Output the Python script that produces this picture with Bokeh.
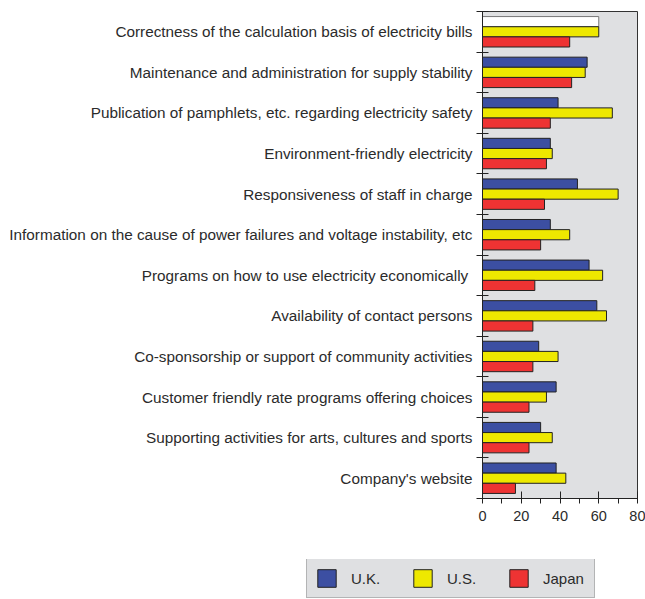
from bokeh.plotting import figure
from bokeh.models import (ColumnDataSource, Range1d, FixedTicker, CustomJSTickFormatter,
                          Legend, LegendItem)
from bokeh.transform import dodge
from bokeh.embed import file_html
from bokeh.resources import INLINE

categories = [
    "Correctness of the calculation basis of electricity bills",
    "Maintenance and administration for supply stability",
    "Publication of pamphlets, etc. regarding electricity safety",
    "Environment-friendly electricity",
    "Responsiveness of staff in charge",
    "Information on the cause of power failures and voltage instability, etc",
    "Programs on how to use electricity economically ",
    "Availability of contact persons",
    "Co-sponsorship or support of community activities",
    "Customer friendly rate programs offering choices",
    "Supporting activities for arts, cultures and sports",
    "Company's website",
]
series_names = ["U.K.", "U.S.", "Japan"]
uk = [60, 54, 39, 35, 49, 35, 55, 59, 29, 38, 30, 38]
us = [60, 53, 67, 36, 70, 45, 62, 64, 39, 33, 36, 43]
japan = [45, 46, 35, 33, 32, 30, 27, 26, 26, 24, 24, 17]
x_ticks = [0, 20, 40, 60, 80]

UK_C, US_C, JP_C = "#3c4fa2", "#eee800", "#ee3333"
BG = "#dfe0e2"
TXT = "#2b2b2b"
EDGE = "#222222"
FONT = "Liberation Sans"

n = len(categories)
pos = [i + 0.5 for i in range(n)]
uk_fill = ["#ffffff" if i == 0 else UK_C for i in range(n)]
uk_line = ["#777777" if i == 0 else EDGE for i in range(n)]

src = ColumnDataSource(dict(pos=pos, uk=uk, us=us, japan=japan,
                            uk_fill=uk_fill, uk_line=uk_line))

p = figure(width=645, height=559, x_range=Range1d(0, 80), y_range=Range1d(n, 0),
           output_backend="svg", toolbar_location=None,
           min_border_left=482, min_border_right=8, min_border_top=11,
           min_border_bottom=61)
p.background_fill_color = BG
p.border_fill_color = "white"
p.outline_line_color = "#333333"
p.outline_line_width = 1
p.xgrid.visible = False
p.ygrid.visible = False

h = 0.25
p.hbar(y=dodge("pos", -h, range=p.y_range), right="uk", left=0, height=h,
       source=src, fill_color="uk_fill", line_color="uk_line", line_width=1)
p.hbar(y=dodge("pos", 0, range=p.y_range), right="us", left=0, height=h,
       source=src, fill_color=US_C, line_color=EDGE, line_width=1)
p.hbar(y=dodge("pos", h, range=p.y_range), right="japan", left=0, height=h,
       source=src, fill_color=JP_C, line_color=EDGE, line_width=1)

# x axis
xa = p.xaxis[0]
xa.ticker = FixedTicker(ticks=x_ticks, minor_ticks=[t + 10 for t in x_ticks[:-1]])
xa.major_tick_in = 7
xa.major_tick_out = 5
xa.minor_tick_in = 0
xa.minor_tick_out = 5
xa.major_label_text_font = FONT
xa.major_label_text_font_size = "14.5px"
xa.major_label_text_color = TXT
xa.major_label_standoff = 7
xa.axis_line_color = EDGE
xa.major_tick_line_color = EDGE
xa.minor_tick_line_color = EDGE

# y axis: labels at group centres, ticks at group boundaries
ya = p.yaxis[0]
ya.ticker = FixedTicker(ticks=pos, minor_ticks=list(range(n + 1)))
ya.formatter = CustomJSTickFormatter(args=dict(cats=categories),
                                     code="return cats[Math.floor(tick)];")
ya.major_tick_in = 0
ya.major_tick_out = 0
ya.minor_tick_in = 6
ya.minor_tick_out = 6
ya.major_label_text_font = FONT
ya.major_label_text_font_size = "15.3px"
ya.major_label_text_color = TXT
ya.major_label_standoff = 4
ya.axis_line_color = EDGE
ya.minor_tick_line_color = EDGE

# legend strip (separate root, so its frame is not aligned with the chart)
leg = figure(width=645, height=40, x_range=Range1d(0, 1), y_range=Range1d(0, 1),
             output_backend="svg", toolbar_location=None,
             x_axis_location=None, y_axis_location=None,
             min_border=0, min_border_left=0, min_border_right=0,
             min_border_top=0, min_border_bottom=0)
leg.outline_line_color = None
leg.background_fill_color = "white"
leg.xgrid.visible = False
leg.ygrid.visible = False
items = []
for name, field, col in zip(series_names, ["uk", "us", "japan"], [UK_C, US_C, JP_C]):
    r = leg.hbar(y="pos", right=field, left=0, height=h, source=src,
                 fill_color=col, line_color=EDGE, line_width=1)
    r.visible = False  # only used as legend key
    items.append(LegendItem(label=name, renderers=[r]))

legend = Legend(items=items, orientation="horizontal", location=(306, 1),
                glyph_width=23, glyph_height=22, label_standoff=13,
                label_width=43, spacing=17, padding=8, margin=0,
                label_text_font=FONT, label_text_font_size="15px",
                label_text_color=TXT,
                inactive_fill_alpha=0,
                border_line_color="#888888", border_line_width=1,
                background_fill_color=BG, background_fill_alpha=1)
leg.add_layout(legend, "center")

open("out.html", "w").write(file_html([p, leg], INLINE))
